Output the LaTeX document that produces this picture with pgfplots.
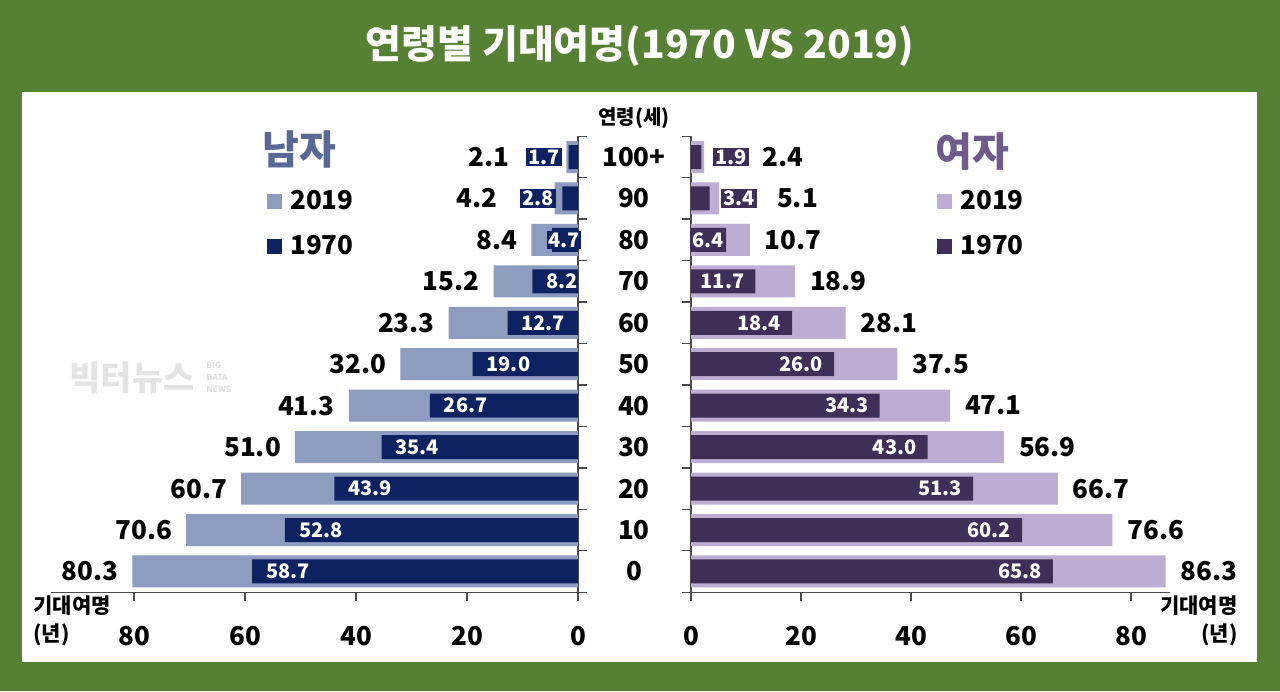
\documentclass[border=0pt]{standalone}
\usepackage{pgfplots}
\pgfplotsset{compat=1.18}
\usepackage{pgfplotstable}
\usepackage{fontspec}
\setmainfont{Noto Sans CJK KR}
\definecolor{bggreen}{HTML}{568034}
\definecolor{mlight}{HTML}{8E9CC0}
\definecolor{mdark}{HTML}{0E2262}
\definecolor{flight}{HTML}{BDADD3}
\definecolor{fdark}{HTML}{3F2E58}
\definecolor{mtitle}{HTML}{5A6896}
\definecolor{ftitle}{HTML}{6E5A8C}
\definecolor{axisgray}{HTML}{4A4A4A}

\pgfplotstableread{
y  m19  m70  f19  f70
0  80.3 58.7 86.3 65.8
1  70.6 52.8 76.6 60.2
2  60.7 43.9 66.7 51.3
3  51.0 35.4 56.9 43.0
4  41.3 26.7 47.1 34.3
5  32.0 19.0 37.5 26.0
6  23.3 12.7 28.1 18.4
7  15.2 8.2  18.9 11.7
8  8.4  4.7  10.7 6.4
9  4.2  2.8  5.1  3.4
10 2.1  1.7  2.4  1.9
}\lifedata

\newcommand{\bigf}{\fontsize{13}{15}\selectfont\bfseries}
\newcommand{\smallf}{\fontsize{10}{12}\selectfont\bfseries}
\tikzset{boxed/.style={inner xsep=1.2pt, inner ysep=0.8pt, text height=7.5pt, text depth=0.3pt},
  wm/.style={text=gray!25, font=\fontsize{4.2}{5}\selectfont\bfseries, anchor=west, inner sep=0pt, text height=3pt, text depth=0pt}}

\pgfplotsset{
  pyr/.style={
    scale only axis,
    height=227.95pt,
    ymin=-0.5, ymax=10.5,
    clip=false,
    axis x line*=bottom,
    axis line style={-, axisgray, line width=0.7pt},
    tick style={axisgray, line width=0.7pt},
    tick align=outside,
    major tick length=4.5pt,
    xtick={0,20,40,60,80},
    ytick={-0.5,0.5,...,10.5},
    yticklabels={},
    xticklabel style={font=\bigf, yshift=-9pt},
    /pgf/number format/assume math mode=true,
    legend style={draw=none, fill=none, font=\bigf, inner sep=0pt, row sep=7.5pt,
      column sep=2pt, legend cell align=left},
    legend image code/.code={\fill[##1] (0pt,-3.75pt) rectangle (7.5pt,3.75pt);},
  },
  lbl/.style={draw=none, mark=none, forget plot, point meta=x,
    nodes near coords={\pgfmathprintnumber[fixed,fixed zerofill,precision=1]{\pgfplotspointmeta}}},
}

\begin{document}
\begin{tikzpicture}
% background
\fill[bggreen] (0,0) rectangle (640pt,345.5pt);
\fill[white] (11pt,14.5pt) rectangle (628.5pt,299.5pt);
\node[text=white, font=\fontsize{19.5}{22}\selectfont\bfseries] at (320pt,322.5pt) {연령별 기대여명(1970 VS 2019)};

% watermark
\node[text=gray!22, font=\fontsize{17}{19}\selectfont\bfseries] at (66pt,156.5pt) {빅터뉴스};
\node[wm] at (103pt,162.5pt) {BIG};
\node[wm] at (103pt,156.5pt) {DATA};
\node[wm] at (103pt,150.5pt) {NEWS};

% left (male)
\begin{axis}[pyr,
  at={(289pt,49.4pt)}, anchor=south east,
  width=263.6pt,
  x dir=reverse,
  xmin=0, xmax=95,
  axis y line*=right,
  extra y ticks={0,1,...,10},
  extra y tick labels={0,10,20,30,40,50,60,70,80,90,100+},
  extra y tick style={major tick length=0pt, yticklabel style={font=\bigf, anchor=center, xshift=28pt}},
  legend style={at={(axis description cs:0.4097,0.891)}, anchor=north west},
]
\addplot[xbar, bar shift=0pt, bar width=16pt, fill=mlight, draw=none] table[x=m19,y=y]{\lifedata};
\addlegendentry{2019}
\addplot[xbar, bar shift=0pt, bar width=12pt, fill=mdark, draw=none] table[x=m70,y=y]{\lifedata};
\addlegendentry{1970}
% labels
\addplot[lbl, restrict y to domain=0:7.5,
  every node near coord/.append style={anchor=west, xshift=3.5pt, text=white, font=\smallf}]
  table[x=m70,y=y]{\lifedata};
\addplot[lbl, restrict y to domain=7.5:8.5,
  every node near coord/.append style={anchor=west, xshift=-2.5pt, text=white, fill=mdark, font=\smallf, boxed, inner xsep=0.6pt}]
  table[x=m70,y=y]{\lifedata};
\addplot[lbl, restrict y to domain=8.5:10.5,
  every node near coord/.append style={anchor=east, xshift=-3pt, text=white, fill=mdark, font=\smallf, boxed}]
  table[x=m70,y=y]{\lifedata};
\addplot[lbl, restrict y to domain=0:8.5,
  every node near coord/.append style={anchor=east, xshift=-3.5pt, text=black, font=\bigf}]
  table[x=m19,y=y]{\lifedata};
\addplot[lbl, restrict y to domain=8.5:10.5,
  every node near coord/.append style={anchor=east, xshift=-25pt, text=black, font=\bigf}]
  table[x=m19,y=y]{\lifedata};
\end{axis}

% right (female)
\begin{axis}[pyr,
  at={(345.5pt,49.4pt)}, anchor=south west,
  width=239.25pt,
  xmin=0, xmax=87,
  axis y line*=left,
  legend style={at={(axis description cs:0.5143,0.891)}, anchor=north west},
]
\addplot[xbar, bar shift=0pt, bar width=16pt, fill=flight, draw=none] table[x=f19,y=y]{\lifedata};
\addlegendentry{2019}
\addplot[xbar, bar shift=0pt, bar width=12pt, fill=fdark, draw=none] table[x=f70,y=y]{\lifedata};
\addlegendentry{1970}
\addplot[lbl, restrict y to domain=0:7.5,
  every node near coord/.append style={anchor=east, xshift=-2pt, text=white, font=\smallf}]
  table[x=f70,y=y]{\lifedata};
\addplot[lbl, restrict y to domain=7.5:8.5,
  every node near coord/.append style={anchor=east, xshift=0pt, text=white, fill=fdark, font=\smallf, boxed}]
  table[x=f70,y=y]{\lifedata};
\addplot[lbl, restrict y to domain=8.5:10.5,
  every node near coord/.append style={anchor=west, xshift=5.5pt, text=white, fill=fdark, font=\smallf, boxed}]
  table[x=f70,y=y]{\lifedata};
\addplot[lbl, restrict y to domain=0:8.5,
  every node near coord/.append style={anchor=west, xshift=4pt, text=black, font=\bigf}]
  table[x=f19,y=y]{\lifedata};
\addplot[lbl, restrict y to domain=8.5:10.5,
  every node near coord/.append style={anchor=west, xshift=25.5pt, text=black, font=\bigf}]
  table[x=f19,y=y]{\lifedata};
\end{axis}

% headings and descriptions
\node[font=\fontsize{10}{12}\selectfont\bfseries] at (317pt,286.5pt) {연령(세)};
\node[text=mtitle, font=\fontsize{20}{22}\selectfont\bfseries] at (149.5pt,270.5pt) {남자};
\node[text=ftitle, font=\fontsize{20}{22}\selectfont\bfseries] at (486pt,269.5pt) {여자};
\node[anchor=north west, align=left, inner sep=0pt, font=\fontsize{10.5}{14}\selectfont\bfseries] at (16.5pt,48pt) {기대여명\\(년)};
\node[anchor=north east, align=right, inner sep=0pt, font=\fontsize{10.5}{14}\selectfont\bfseries] at (619pt,48pt) {기대여명\\(년)};

\pgfresetboundingbox
\path (0,0) rectangle (640pt,345.5pt);
\end{tikzpicture}
\end{document}
